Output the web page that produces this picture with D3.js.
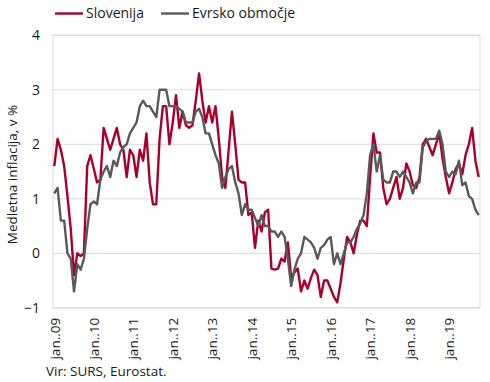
<!DOCTYPE html>
<html>
<head>
<meta charset="utf-8">
<script src="https://cdn.jsdelivr.net/npm/d3@7"></script>
<style>
  html, body { margin: 0; padding: 0; background: #fff; }
  svg { display: block; font-family: "Open Sans", "Noto Sans", sans-serif; }
</style>
</head>
<body>
<svg id="chart" width="490" height="382"></svg>
<script>
// Series names
const seriesNames = ["Slovenija", "Evrsko območje"];

// Year tick labels (January of each year, months jan 2009 .. oct 2019)
const yearLabels = ["jan..09","jan..10","jan..11","jan..12","jan..13","jan..14","jan..15","jan..16","jan..17","jan..18","jan..19"];
const yTicks = [-1, 0, 1, 2, 3, 4];

// Slovenia, monthly y/y inflation, %
const slovenija = [
  1.6, 2.1, 1.9, 1.6, 1.05, 0.45, -0.4, 0.0, -0.05, 0.0, 1.6, 1.8,      // 2009
  1.55, 1.3, 1.35, 2.3, 2.1, 1.9, 2.1, 2.3, 2.0, 1.9, 1.4, 1.9,         // 2010
  1.8, 1.4, 1.9, 1.7, 2.2, 1.3, 0.9, 0.9, 2.1, 2.7, 2.7, 2.0,           // 2011
  2.4, 2.9, 2.3, 2.6, 2.35, 2.3, 2.35, 2.8, 3.3, 2.8, 2.4, 2.7,         // 2012
  2.4, 2.7, 2.1, 1.4, 1.2, 1.9, 2.6, 2.0, 1.35, 1.3, 1.3, 0.7,          // 2013
  0.75, 0.1, 0.6, 0.4, 0.75, 0.8, -0.28, -0.3, -0.28, -0.1, -0.15, 0.2, // 2014
  -0.45, -0.35, -0.28, -0.7, -0.5, -0.65, -0.45, -0.3, -0.4, -0.8, -0.5, -0.5, // 2015
  -0.65, -0.8, -0.9, -0.55, -0.1, 0.3, 0.2, 0.0, 0.35, 0.6, 0.6, 0.5,   // 2016
  1.4, 2.2, 1.85, 1.85, 1.2, 0.9, 1.0, 1.2, 1.4, 1.0, 1.2, 1.65,        // 2017
  1.5, 1.25, 1.2, 1.4, 2.0, 2.1, 1.95, 1.8, 2.0, 2.2, 1.75, 1.4,        // 2018
  1.1, 1.3, 1.55, 1.65, 1.45, 1.8, 2.0, 2.3, 1.7, 1.4                   // 2019
];

// Euro area, monthly y/y inflation, %
const evrskoObmocje = [
  1.1, 1.2, 0.6, 0.6, 0.0, -0.1, -0.7, -0.2, -0.3, -0.1, 0.45, 0.9,     // 2009
  0.95, 0.9, 1.35, 1.5, 1.6, 1.4, 1.7, 1.6, 1.85, 1.95, 2.0, 2.2,       // 2010
  2.3, 2.4, 2.7, 2.8, 2.7, 2.7, 2.6, 2.5, 3.0, 3.0, 3.0, 2.7,           // 2011
  2.7, 2.7, 2.65, 2.6, 2.4, 2.4, 2.4, 2.6, 2.65, 2.5, 2.2, 2.2,         // 2012
  2.0, 1.8, 1.65, 1.2, 1.4, 1.55, 1.6, 1.3, 1.1, 0.7, 0.9, 0.8,         // 2013
  0.8, 0.65, 0.5, 0.7, 0.5, 0.5, 0.4, 0.4, 0.3, 0.4, 0.3, -0.1,         // 2014
  -0.6, -0.3, -0.1, 0.0, 0.3, 0.25, 0.2, 0.1, -0.1, 0.1, 0.15, 0.25,    // 2015
  0.3, -0.2, 0.0, -0.2, 0.0, 0.2, 0.2, 0.3, 0.45, 0.55, 0.7, 1.1,       // 2016
  1.8, 2.0, 1.5, 1.8, 1.35, 1.3, 1.3, 1.5, 1.5, 1.4, 1.5, 1.4,          // 2017
  1.3, 1.1, 1.3, 1.3, 1.95, 2.05, 2.1, 2.1, 2.1, 2.25, 2.0, 1.5,        // 2018
  1.4, 1.5, 1.45, 1.7, 1.25, 1.3, 1.05, 1.0, 0.8, 0.7                   // 2019
];

const colors = ["#a8002a", "#595959"];
const gridColor = "#d9d9d9";

const svg = d3.select("#chart");
const plot = { left: 53, right: 480, top: 35.3, bottom: 307.8 };

const n = slovenija.length;
const x = d3.scaleLinear().domain([0, n - 1]).range([54.3, 478.7]);
const y = d3.scaleLinear().domain([-1, 4]).range([plot.bottom, plot.top]);

// gridlines
svg.append("g").selectAll("line").data(yTicks).join("line")
  .attr("x1", plot.left).attr("x2", plot.right)
  .attr("y1", d => y(d)).attr("y2", d => y(d))
  .attr("stroke", gridColor).attr("stroke-width", 1);

// frame
svg.append("rect")
  .attr("x", plot.left).attr("y", plot.top)
  .attr("width", plot.right - plot.left).attr("height", plot.bottom - plot.top)
  .attr("fill", "none").attr("stroke", gridColor).attr("stroke-width", 1);

// y axis
const yAxis = svg.append("g")
  .attr("transform", `translate(${plot.left},0)`)
  .call(d3.axisLeft(y).tickValues(yTicks).tickSize(0).tickPadding(13).tickFormat(d3.format("d")));
yAxis.select(".domain").remove();
yAxis.selectAll("text").attr("font-size", 14).attr("fill", "#1a1a1a")
  .attr("font-family", "'Open Sans', sans-serif");

// x axis
const xTickIdx = yearLabels.map((_, k) => k * 12);
const xAxis = svg.append("g")
  .attr("transform", `translate(0,${plot.bottom})`)
  .call(d3.axisBottom(x).tickValues(xTickIdx).tickSize(0)
    .tickFormat((d, k) => yearLabels[k]));
xAxis.select(".domain").remove();
xAxis.selectAll("text")
  .attr("font-size", 13.5).attr("fill", "#1a1a1a")
  .attr("font-family", "'Open Sans', sans-serif")
  .attr("text-anchor", "end")
  .attr("transform", "rotate(-90)")
  .attr("x", -10).attr("y", 0).attr("dy", "0.35em");

// y axis title
svg.append("text")
  .attr("transform", `translate(17,${(plot.top + plot.bottom) / 2 + 3}) rotate(-90)`)
  .attr("text-anchor", "middle")
  .attr("font-size", 13.5).attr("fill", "#1a1a1a")
  .text("Medletna inflacija, v %");

// lines
const line = d3.line().x((d, i) => x(i)).y(d => y(d)).curve(d3.curveLinear);
[slovenija, evrskoObmocje].forEach((s, k) => {
  svg.append("path").datum(s)
    .attr("d", line)
    .attr("fill", "none")
    .attr("stroke", colors[k])
    .attr("stroke-width", 2.4)
    .attr("stroke-linejoin", "round");
});

// legend
const legendItems = [
  { x: 55, name: seriesNames[0], color: colors[0] },
  { x: 161, name: seriesNames[1], color: colors[1] }
];
const lg = svg.append("g").selectAll("g").data(legendItems).join("g")
  .attr("transform", d => `translate(${d.x},13.5)`);
lg.append("line").attr("x1", 0).attr("x2", 28).attr("y1", 0).attr("y2", 0)
  .attr("stroke", d => d.color).attr("stroke-width", 2.4);
lg.append("text").attr("x", 31).attr("y", 0).attr("dy", "0.35em")
  .attr("font-size", 14).attr("fill", "#1a1a1a").text(d => d.name);

// source
svg.append("text").attr("x", 46).attr("y", 376)
  .attr("font-size", 13.5).attr("fill", "#1a1a1a")
  .text("Vir: SURS, Eurostat.");
</script>
</body>
</html>
